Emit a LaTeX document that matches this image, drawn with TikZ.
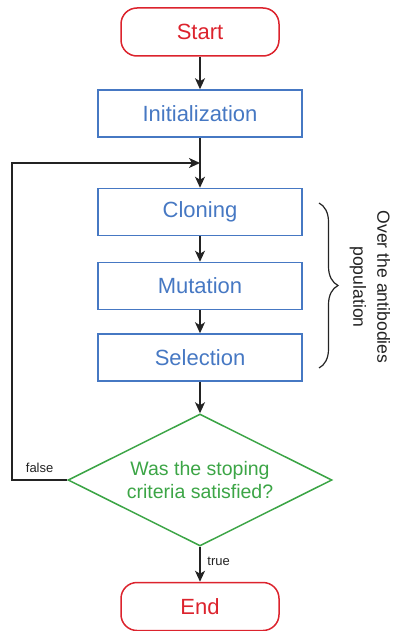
\documentclass[tikz,border=0pt]{standalone}
\usepackage{fontspec}
\setmainfont{Liberation Sans}
\usetikzlibrary{shapes.geometric,arrows.meta,decorations.pathreplacing}

\definecolor{termred}{RGB}{220,35,45}
\definecolor{stepblue}{RGB}{70,120,195}
\definecolor{testgreen}{RGB}{60,165,70}
\definecolor{linegray}{RGB}{35,35,35}

\tikzset{
  terminal/.style={draw=termred, text=termred, line width=0.75pt, rounded corners=8pt,
    minimum width=79pt, minimum height=24pt, font=\fontsize{11}{13}\selectfont},
  process/.style={draw=stepblue, text=stepblue, line width=0.75pt,
    minimum width=102pt, minimum height=23.5pt, font=\fontsize{11}{13}\selectfont},
  decision/.style={diamond, aspect=2, draw=testgreen, text=testgreen, line width=0.75pt,
    minimum width=132pt, minimum height=66pt, inner sep=0pt, align=center,
    font=\fontsize{9.75}{11.5}\selectfont},
  flow/.style={draw=linegray, line width=0.75pt, -{Stealth[length=5.5pt,width=5pt,inset=1.5pt]}},
  tag/.style={text=linegray, font=\fontsize{6.5}{8}\selectfont}
}

\begin{document}
\begin{tikzpicture}[x=0.5pt,y=-0.5pt]
    \useasboundingbox (0,0) rectangle (392,631);
    \node[terminal] (start) at (200,32) {Start};
    \node[process] (init) at (200,113.5) {Initialization};
    \foreach \name/\txt/\y in {clone/Cloning/212, mutate/Mutation/286, select/Selection/357.5}
    {
      \node[process] (\name) at (200,\y) {\txt};
    }
    \node[decision] (test) at (200,480) {Was the stoping\\criteria satisfied?};
    \node[terminal] (finish) at (200,606.5) {End};
    \coordinate (join) at (200,163);
    \coordinate (back) at (12,163);

    \foreach \a/\b in {start/init, init/clone, clone/mutate, mutate/select, select/test}
    {
      \draw[flow] (\a) -- (\b);
    }
    \draw[flow] (test.west) -| node[tag, pos=0.25, above] {false} (back) -- (join);
    \draw[flow] (test.south) -- node[tag, pos=0.42, right] {true} (finish.north);

    % loop over the population
    \draw[linegray, line width=0.6pt, decorate, decoration={brace, amplitude=9.5pt}]
      (319,203) -- (319,368);
    \node[text=linegray, rotate=-90, align=center, font=\fontsize{8.8}{12}\selectfont] (note)
      at (370,287) {Over the antibodies\\population};
\end{tikzpicture}
\end{document}
